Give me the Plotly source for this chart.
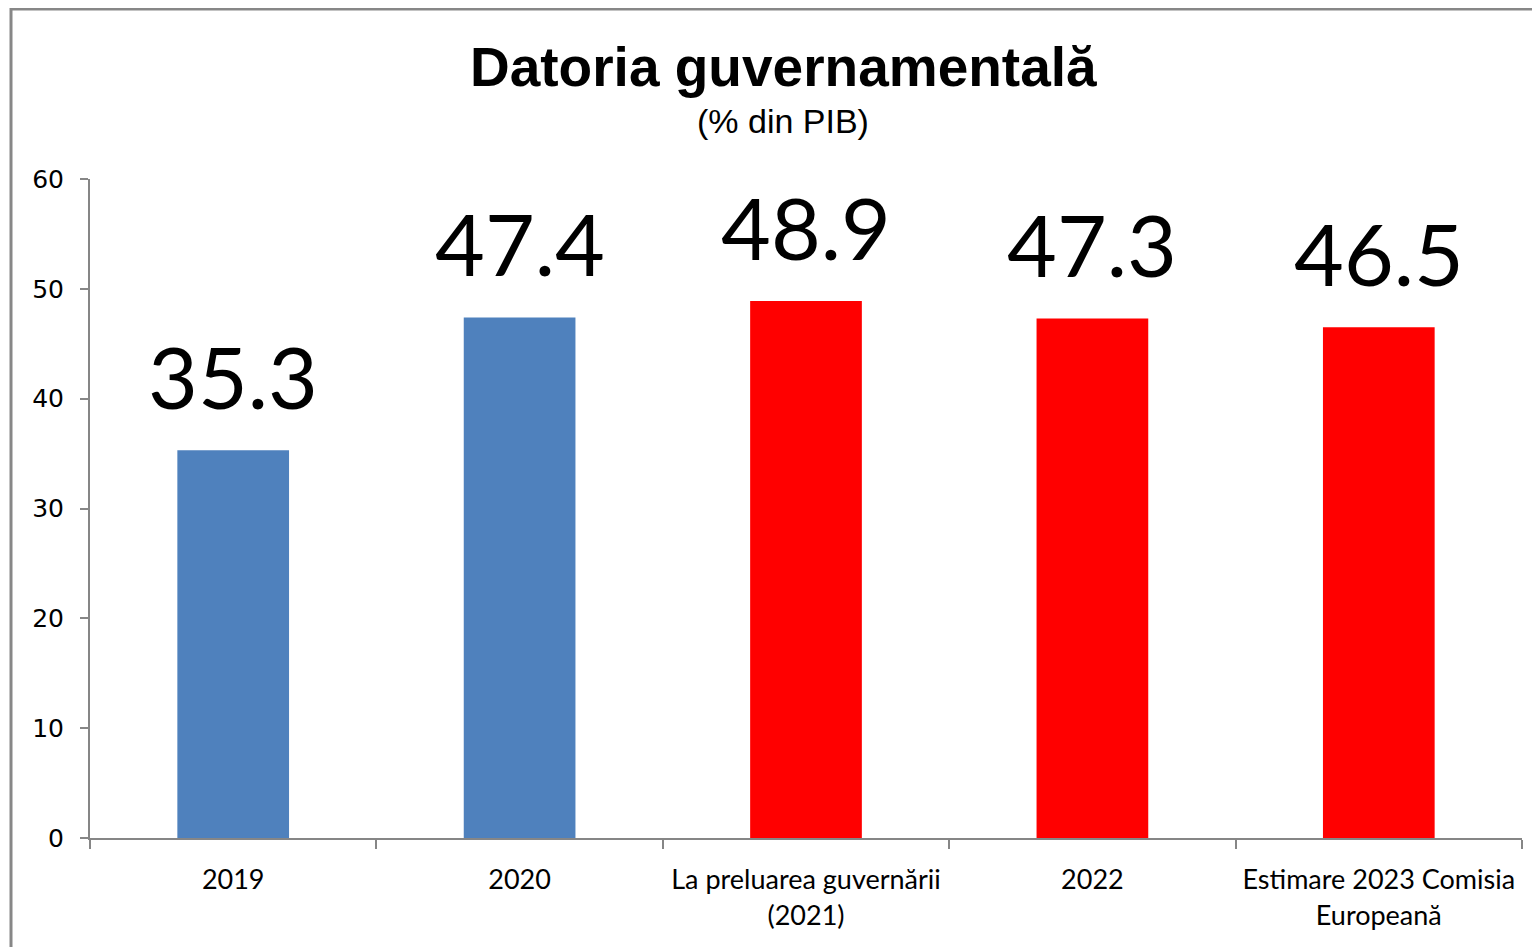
import plotly.graph_objects as go

categories = ["2019", "2020", "La preluarea guvernării<br>(2021)", "2022", "Estimare 2023 Comisia<br>Europeană"]
values = [35.3, 47.4, 48.9, 47.3, 46.5]
colors = ["#4F81BD", "#4F81BD", "#FF0000", "#FF0000", "#FF0000"]
labels = ["35.3", "47.4", "48.9", "47.3", "46.5"]
title = "Datoria guvernamentală"
subtitle = "(% din PIB)"

OFF = 8  # page body margin
W, H = 1540 - OFF, 947 - OFF
L, R, T, B = 90 - OFF, 18, 179 - OFF, 109
pw, ph = W - L - R, H - T - B

def px(x):
    return (x - OFF - L) / pw

def py(y):
    return (H - B - (y - OFF)) / ph

fig = go.Figure(go.Bar(x=categories, y=values, marker=dict(color=colors, line=dict(width=0)),
                       width=0.39, hoverinfo="skip"))

annotations = []
for i, (v, t) in enumerate(zip(values, labels)):
    annotations.append(dict(x=i, y=v, text=t, showarrow=False, xref="x", yref="y",
                            yanchor="bottom", yshift=21,
                            font=dict(family="Lato", size=86, color="#000000")))
annotations.append(dict(x=px(783), y=py(67), xref="paper", yref="paper", text="<b>" + title + "</b>",
                        showarrow=False, yanchor="middle", xanchor="center",
                        font=dict(family="Liberation Sans", size=55, color="#000000")))
annotations.append(dict(x=px(783), y=py(121), xref="paper", yref="paper", text=subtitle,
                        showarrow=False, yanchor="middle", xanchor="center",
                        font=dict(family="Liberation Sans", size=34, color="#000000")))

fig.update_layout(
    width=W, height=H,
    margin=dict(l=L, r=R, t=T, b=B),
    paper_bgcolor="white", plot_bgcolor="white",
    showlegend=False,
    annotations=annotations,
    shapes=[dict(type="rect", xref="paper", yref="paper",
                 x0=px(11), x1=px(1560), y0=py(970), y1=py(9),
                 line=dict(color="#878787", width=3), fillcolor="rgba(0,0,0,0)", layer="below")],
    xaxis=dict(type="category", range=[-0.5, len(categories) - 0.5], showgrid=False,
               showline=True, linecolor="#868686", linewidth=2,
               ticks="outside", ticklen=9, tickcolor="#868686", tickwidth=2,
               tickson="boundaries", zeroline=False, tickangle=0, ticklabelstandoff=17,
               tickfont=dict(family="Lato", size=27, color="#000000")),
    yaxis=dict(range=[0, 60], dtick=10, showgrid=False, showline=True, linecolor="#868686",
               linewidth=2, ticks="outside", ticklen=8, tickcolor="#868686", tickwidth=2,
               zeroline=False, ticklabelstandoff=11,
               tickfont=dict(family="DejaVu Sans", size=25, color="#000000")),
)

fig.write_html("out.html")
